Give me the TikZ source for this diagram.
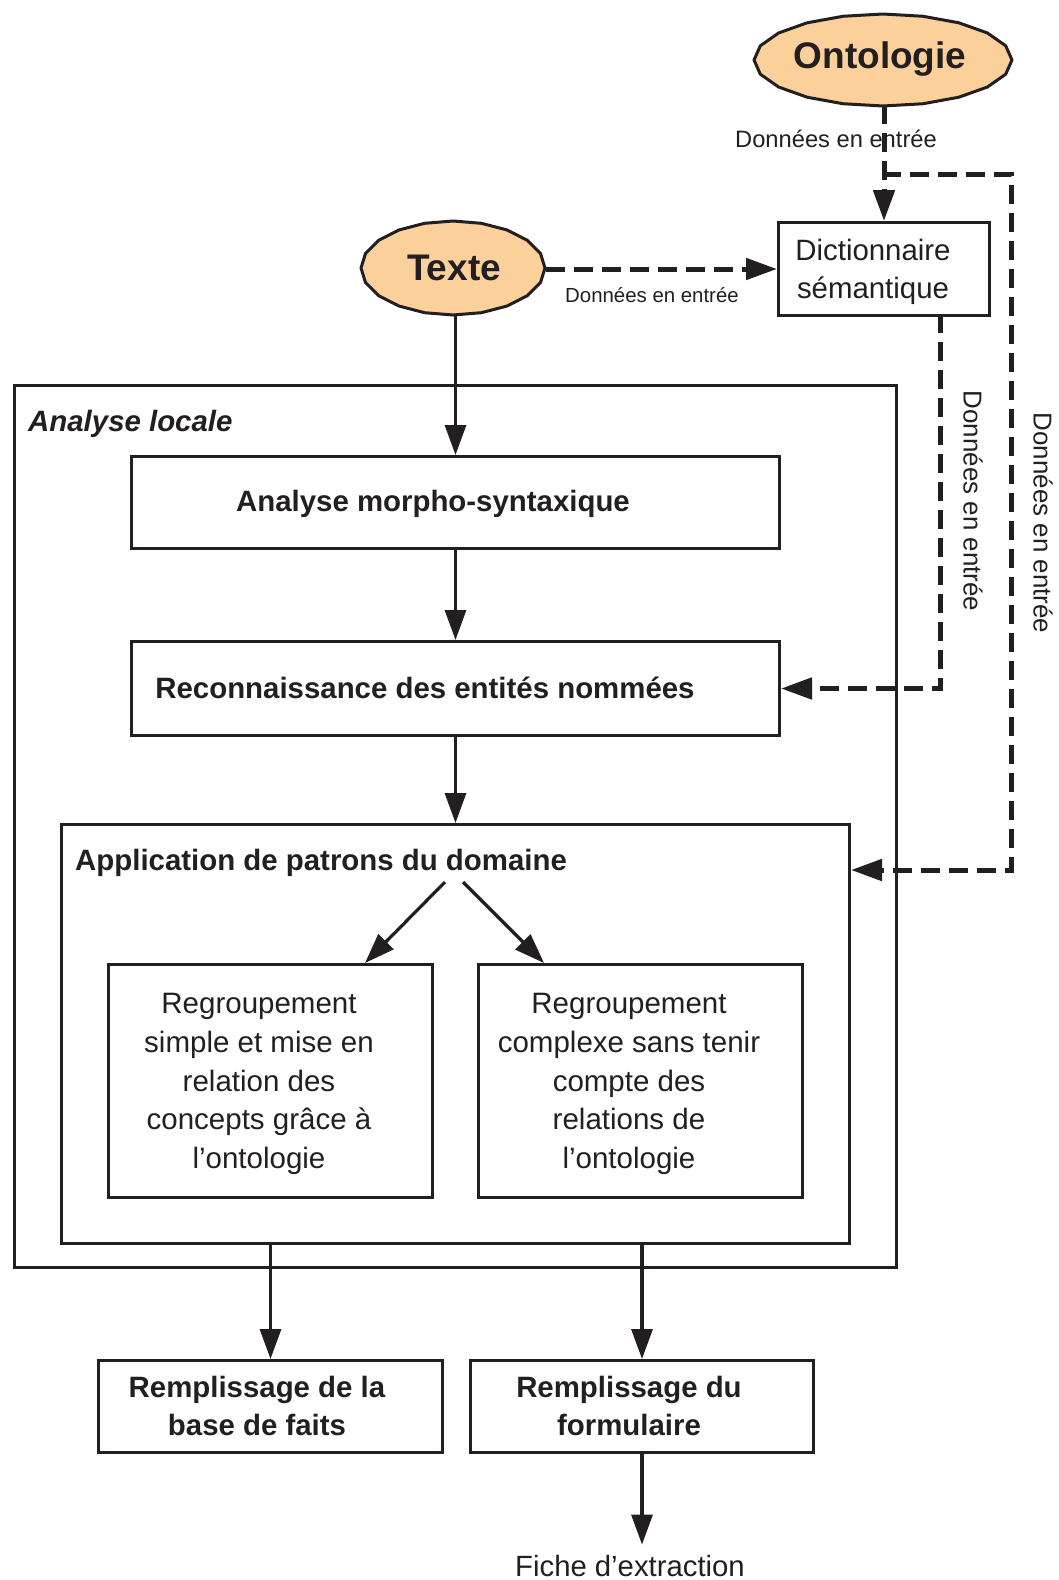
\documentclass[tikz,border=0pt]{standalone}
\usepackage{fontspec}
\setmainfont{Liberation Sans}
\usetikzlibrary{arrows.meta,calc,shapes.geometric}
\definecolor{peach}{RGB}{251,208,154}
\definecolor{ink}{RGB}{35,31,32}
\newcommand{\fsz}[2]{\fontsize{#1}{#2}\selectfont}
\begin{document}
\begin{tikzpicture}[x=1pt,y=-1pt,
  box/.style={draw=ink,line width=3pt,inner sep=0pt,anchor=north west},
  blob/.style={draw=ink,line width=3pt,fill=peach,line join=round},
  txt/.style={text=ink,inner sep=0pt,align=center},
  arr/.style={draw=ink,line width=3.2pt,-{Triangle[length=30pt,width=21pt]}},
  darr/.style={draw=ink,line width=5pt,dash pattern=on 19pt off 9pt,-{Triangle[length=31pt,width=21pt]}},
  lbl/.style={text=ink,inner sep=0pt}]
\useasboundingbox (0,0) rectangle (1058,1580);
\fill[white] (0,0) rectangle (1058,1580);

% blobs
\draw[blob] plot[samples=21,domain=0:360] ({883+129*cos(\x)},{60+46*sin(\x)}) -- cycle;
\node[ellipse,minimum width=258,minimum height=92,inner sep=0pt,text=ink,font=\fsz{37}{44}\bfseries] (onto) at (880,59) {Ontologie};
\draw[blob] plot[samples=21,domain=0:360] ({453+92*cos(\x)},{268+47*sin(\x)}) -- cycle;
\node[ellipse,minimum width=184,minimum height=94,inner sep=0pt,text=ink,font=\fsz{37}{44}\bfseries] (texte) at (454,268) {Texte};

% boxes
\node[box,minimum width=211,minimum height=93] (dict) at (777,221) {};
\node[txt,font=\fsz{29.4}{38.3}] at (873,272) {Dictionnaire\\sémantique};

\node[box,minimum width=882,minimum height=882] (local) at (13,384) {};
\node[lbl,anchor=base west,font=\fsz{29.4}{34}\bfseries\itshape] at (28,431) {Analyse locale};

\node[box,minimum width=648,minimum height=92] (morpho) at (130,455) {};
\node[lbl,anchor=base,font=\fsz{29.4}{36}\bfseries] at (433,511) {Analyse morpho-syntaxique};

\node[box,minimum width=648,minimum height=94] (reconn) at (130,640) {};
\node[lbl,anchor=base,font=\fsz{29.4}{36}\bfseries] at (425,698) {Reconnaissance des entités nommées};

\node[box,minimum width=788,minimum height=419] (app) at (60,823) {};
\node[lbl,anchor=base west,font=\fsz{29.4}{36}\bfseries] at (75,870) {Application de patrons du domaine};

\node[box,minimum width=324,minimum height=233] (reg1) at (107,963) {};
\node[txt,font=\fsz{29.5}{38.6}] at (259,1084) {Regroupement\\simple et mise en\\relation des\\concepts grâce à\\l’ontologie};
\node[box,minimum width=324,minimum height=233] (reg2) at (477,963) {};
\node[txt,font=\fsz{29.5}{38.6}] at (629,1084) {Regroupement\\complexe sans tenir\\compte des\\relations de\\l’ontologie};

\node[box,minimum width=344,minimum height=92] (rem1) at (97,1359) {};
\node[txt,font=\fsz{29.4}{37.3}\bfseries] at (257,1406) {Remplissage de la\\base de faits};
\node[box,minimum width=343,minimum height=92] (rem2) at (469,1359) {};
\node[txt,font=\fsz{29.4}{37.3}\bfseries] at (629,1406) {Remplissage du\\formulaire};

\node[lbl,anchor=base,font=\fsz{29.3}{36}] (fiche) at (630,1576) {Fiche d’extraction};

% labels of dashed connectors
\node[lbl,font=\fsz{23.7}{28}] at (836,139) {Données en entrée};
\node[lbl,font=\fsz{20.4}{24}] at (652,295) {Données en entrée};
\node[lbl,rotate=-90,font=\fsz{25.9}{30}] at (973,501) {Données en entrée};
\node[lbl,rotate=-90,font=\fsz{25.9}{30}] at (1043,523) {Données en entrée};

% solid connectors
\draw[arr] (texte.south -| morpho.north) -- (morpho.north);
\draw[arr] (morpho.south) -- (reconn.north);
\draw[arr] (reconn.south) -- (app.north);
\coordinate (s1) at (445,882);
\coordinate (s2) at (463,882);
\draw[arr] (s1) -- ($(reg1.north west)+(258,0)$);
\draw[arr] (s2) -- ($(reg2.north west)+(67,0)$);
\draw[arr] (rem1.north |- app.south) -- (rem1.north);
\draw[arr] (rem2.north |- app.south) -- (rem2.north);
\draw[arr,shorten >=10pt] (rem2.south) -- (rem2.south |- fiche.north);

% dashed connectors
\draw[darr] (onto.south -| dict.north) -- (dict.north);
\draw[darr] (texte.east |- dict.west) -- (dict.west);
\coordinate (d1) at (940,314);
\draw[darr] (d1) |- (reconn.east);
\coordinate (br) at (882,174);
\draw[darr] (br) -| (1011,870) -- (app.east |- 1011,870);
\end{tikzpicture}
\end{document}
